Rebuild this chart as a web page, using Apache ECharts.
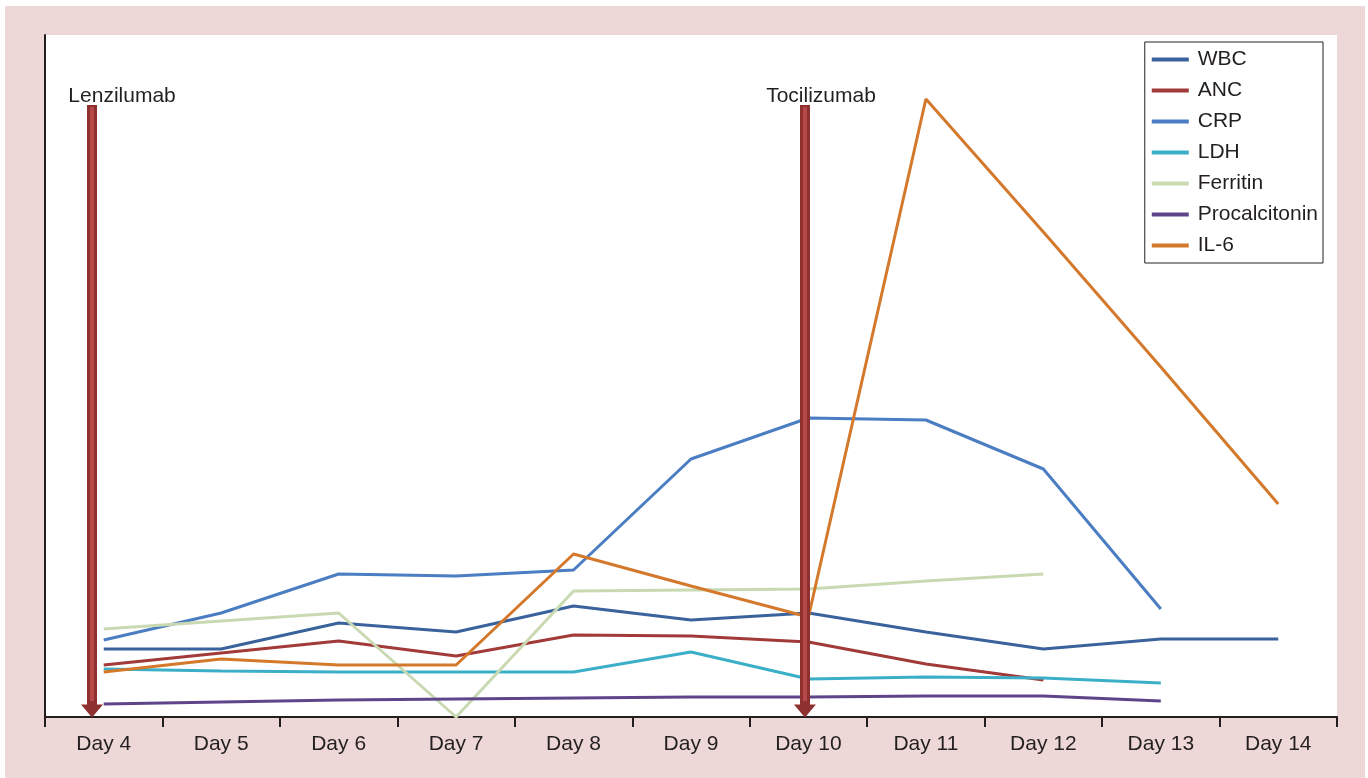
<!DOCTYPE html>
<html>
<head>
<meta charset="utf-8">
<script src="https://cdn.jsdelivr.net/npm/echarts@6/dist/echarts.min.js"></script>
<style>
html,body{margin:0;padding:0;background:#fff;}
#bg{position:absolute;left:5px;top:6px;width:1360px;height:772px;background:#EDD8D7;}
#chart{position:absolute;left:0;top:0;width:1368px;height:778px;}
</style>
</head>
<body>
<div id="bg"></div>
<div id="chart"></div>
<script>
var categories = ['Day 4','Day 5','Day 6','Day 7','Day 8','Day 9','Day 10','Day 11','Day 12','Day 13','Day 14'];
var wbc = [68,68,94,85,111,97,104,85,68,78,78];
var anc = [52,64,76,61,82,81,75,53,37,null,null];
var crp = [77,104,143,141,147,258,299,297,248,108,null];
var ldh = [48,46,45,45,45,65,38,40,39,34,null];
var ferritin = [88,96,104,0,126,127,128,136,143,null,null];
var procalcitonin = [13,15,17,18,19,20,20,21,21,16,null];
var il6 = [45,58,52,52,163,131,100,618,485,350,213];
var seriesNames = ['WBC','ANC','CRP','LDH','Ferritin','Procalcitonin','IL-6'];
var seriesColors = ['#3A629C','#A23A3A','#4A7DC2','#3BAFC8','#C9D9B2','#5E4589','#D4792C'];
var seriesData = [wbc, anc, crp, ldh, ferritin, procalcitonin, il6];
// treatment annotations: position on a hidden 0..11 value axis
var treatments = [
  {name:'Lenzilumab', x:0.40, labelX:0.656},
  {name:'Tocilizumab', x:6.47, labelX:6.607}
];
var arrowTop = 612, arrowEnd = 6, labelY = 621;

var FONT = 'Liberation Sans, Arial, sans-serif';
var chart = echarts.init(document.getElementById('chart'));
var series = seriesNames.map(function(n, i){
  return {
    name: n, type: 'line', data: seriesData[i], symbol: 'none',
    xAxisIndex: 0, yAxisIndex: 0,
    lineStyle: {width: 3, color: seriesColors[i]},
    itemStyle: {color: seriesColors[i]},
    connectNulls: false, z: 2
  };
});
var mlData = [];
treatments.forEach(function(t){
  mlData.push([
    {coord:[t.x, arrowTop], symbol:'none', lineStyle:{width:10, color:'#8E3030', type:'solid', opacity:1}},
    {coord:[t.x, arrowEnd], symbol:'triangle', symbolSize:[22,13]}
  ]);
});
treatments.forEach(function(t){
  mlData.push([
    {coord:[t.x, arrowTop-2], symbol:'none', lineStyle:{width:4, color:'#B84848', type:'solid', opacity:1}},
    {coord:[t.x, arrowEnd+10], symbol:'none'}
  ]);
});
series.push({
  name: 'annot', type: 'line', data: [], xAxisIndex: 1, yAxisIndex: 0, z: 5,
  markLine: {
    silent: true, animation: false,
    symbol: ['none','triangle'],
    itemStyle: {color:'#963434'},
    label: {show:false},
    data: mlData
  },
  markPoint: {
    silent: true, animation: false,
    symbol: 'circle', symbolSize: 0,
    label: {show:true, position:'inside', color:'#231F20', fontSize:21, fontFamily:FONT,
      formatter: function(p){ return p.name; }},
    data: treatments.map(function(t){ return {name:t.name, coord:[t.labelX, labelY]}; })
  }
});

chart.setOption({
  animation: false,
  backgroundColor: 'transparent',
  textStyle: {fontFamily: FONT},
  grid: {left:45, right:31, top:35, bottom:61, show:true, backgroundColor:'#fff', borderWidth:0},
  legend: {
    data: seriesNames, orient:'vertical', right:45, top:42,
    backgroundColor:'#fff', borderColor:'#222', borderWidth:1,
    padding:[7,5,7,7], itemGap:10, itemWidth:37, itemHeight:4, icon:'rect',
    textStyle:{fontSize:21, color:'#231F20', lineHeight:20, padding:[0,0,0,4]}
  },
  xAxis: [{
    type:'category', data: categories, boundaryGap:true,
    axisLine:{show:true, lineStyle:{color:'#231F20', width:2}},
    axisTick:{show:true, length:10, lineStyle:{color:'#231F20', width:2}},
    axisLabel:{fontSize:21, color:'#231F20', margin:17},
    splitLine:{show:false}
  },{
    type:'value', min:0, max:11, show:false
  }],
  yAxis: {
    type:'value', min:0, max:682,
    axisLine:{show:true, lineStyle:{color:'#231F20', width:2}},
    axisTick:{show:false}, axisLabel:{show:false}, splitLine:{show:false}
  },
  series: series
});
</script>
</body>
</html>
